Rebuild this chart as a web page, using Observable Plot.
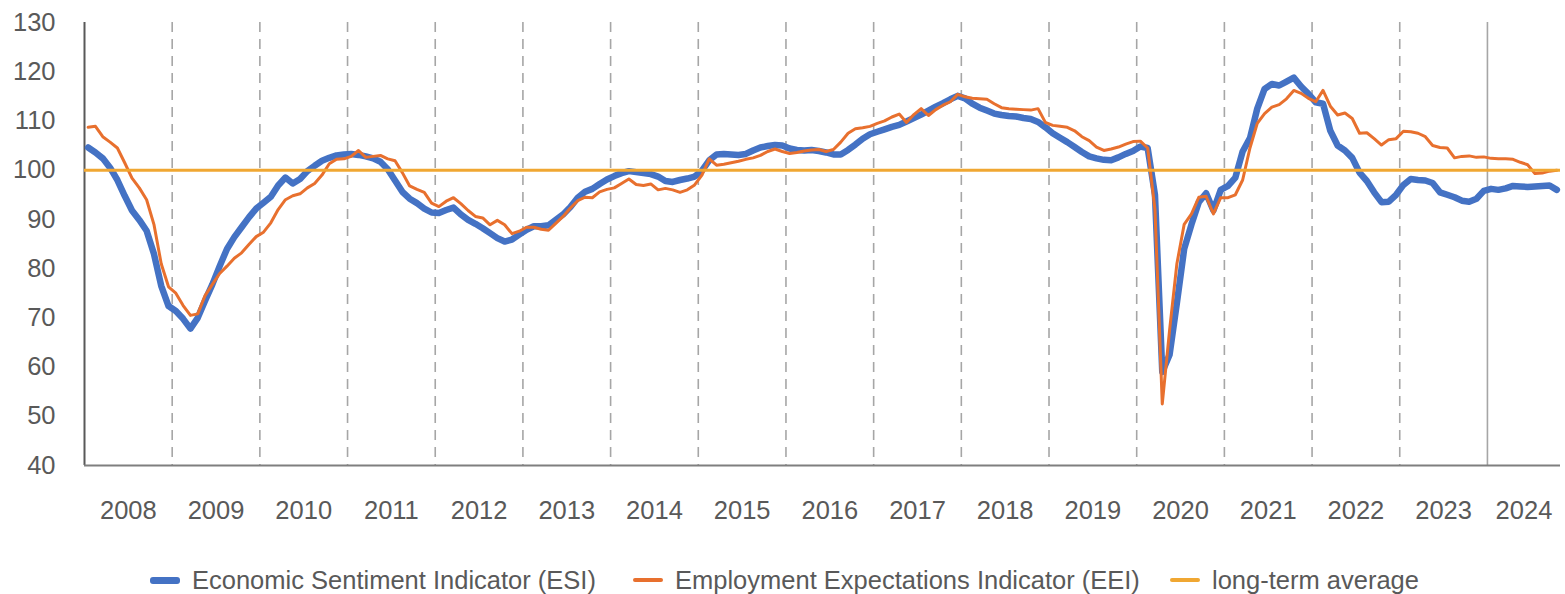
<!DOCTYPE html>
<html>
<head>
<meta charset="utf-8">
<script src="https://cdn.jsdelivr.net/npm/d3@7"></script>
<script src="https://cdn.jsdelivr.net/npm/@observablehq/plot@0.6"></script>
<style>
  body { margin: 0; background: #fff; font-family: "Liberation Sans", Arial, sans-serif; }
  #wrap { position: relative; width: 1565px; height: 594px; overflow: hidden; }
  .lg { position: absolute; top: 565px; height: 30px; display: flex; align-items: center; font-size: 25.5px; color: #595959; white-space: nowrap; }
  .sw { display: inline-block; width: 30px; margin-right: 12px; border-radius: 3px; }
</style>
</head>
<body>
<div id="wrap"></div>
<script>
// Year labels (categories) — monthly data Jan 2008 .. Oct 2024
const years = ["2008","2009","2010","2011","2012","2013","2014","2015","2016","2017","2018","2019","2020","2021","2022","2023","2024"];
const monthCount = 202;
const yTicks = [40, 50, 60, 70, 80, 90, 100, 110, 120, 130];
const longTermAverage = 100;

// Economic Sentiment Indicator (ESI), monthly
const esi = [
  104.6, 103.6, 102.4, 100.5, 98, 94.8, 91.8, 89.9, 87.7, 83, 76.5, 72.4,
  71.4, 69.8, 67.8, 70, 73.5, 76.8, 80.5, 84, 86.4, 88.4, 90.4, 92.2,
  93.4, 94.6, 96.9, 98.5, 97.3, 98.2, 99.8, 100.9, 101.9, 102.5, 103, 103.2,
  103.3, 103.1, 102.8, 102.4, 101.7, 100.2, 97.9, 95.6, 94.2, 93.3, 92.2, 91.4,
  91.3, 91.9, 92.4, 91, 89.9, 89.1, 88.2, 87.2, 86.2, 85.5, 85.9, 86.9,
  87.9, 88.6, 88.6, 88.8, 89.9, 91, 92.5, 94.4, 95.6, 96.2, 97.2, 98.1,
  98.8, 99.4, 99.8, 99.6, 99.4, 99.2, 98.7, 97.8, 97.6, 98, 98.3, 98.7,
  99.9, 102, 103.2, 103.3, 103.2, 103.1, 103.3, 104, 104.6, 104.9, 105.1, 105,
  104.4, 104.1, 104, 104.1, 103.9, 103.6, 103.2, 103.2, 104.1, 105.2, 106.4, 107.3,
  107.8, 108.3, 108.8, 109.2, 109.9, 110.6, 111.3, 112.1, 112.9, 113.6, 114.4, 115.1,
  114.6, 113.5, 112.7, 112.1, 111.5, 111.2, 111, 110.9, 110.6, 110.4, 109.8, 108.7,
  107.5, 106.6, 105.7, 104.7, 103.7, 102.8, 102.4, 102.1, 102, 102.6, 103.3, 103.9,
  104.8, 104.5, 95, 59, 62.5, 73, 84, 89, 93.5, 95.3, 91.8, 96,
  96.8, 98.5, 103.8, 106.5, 112.5, 116.5, 117.5, 117.2, 118, 118.8, 117, 115.5,
  113.8, 113.5, 108, 105, 104, 102.5, 99.5, 97.8, 95.5, 93.5, 93.6, 95,
  97, 98.2, 98, 97.9, 97.4, 95.5, 95, 94.5, 93.8, 93.6, 94.2, 95.8,
  96.2, 96, 96.3, 96.8, 96.7, 96.6, 96.7, 96.8, 96.9, 96
];

// Employment Expectations Indicator (EEI), monthly
const eei = [
  108.7, 108.9, 106.8, 105.7, 104.5, 101.5, 98.4, 96.4, 94, 89, 81, 76.3,
  75, 72.5, 70.5, 70.8, 74.5, 76.8, 79, 80.5, 82.1, 83.2, 84.9, 86.5,
  87.4, 89.3, 92, 94, 94.8, 95.2, 96.4, 97.3, 99, 101.3, 102.2, 102.3,
  102.8, 104, 102.6, 102.8, 103, 102.3, 101.9, 99.5, 96.8, 96.1, 95.5, 93.3,
  92.6, 93.7, 94.4, 93.2, 91.8, 90.6, 90.3, 88.9, 89.8, 88.9, 87.1, 87.6,
  88.4, 88.4, 88, 87.8, 89.2, 90.6, 92.3, 93.8, 94.5, 94.4, 95.6, 96.1,
  96.4, 97.3, 98.2, 97.1, 96.9, 97.2, 96, 96.3, 96, 95.5, 96, 97,
  99, 102.3, 101, 101.2, 101.5, 101.8, 102.2, 102.5, 103, 103.8, 104.3, 103.8,
  103.4, 103.6, 103.9, 104.1, 104.2, 103.8, 104.2, 105.7, 107.5, 108.4, 108.6, 108.9,
  109.5, 110, 110.8, 111.4, 109.7, 111.3, 112.5, 111.1, 112.3, 113.2, 113.9, 115.4,
  114.9, 114.6, 114.5, 114.4, 113.5, 112.7, 112.5, 112.4, 112.3, 112.2, 112.5, 109.7,
  109.1, 108.9, 108.7, 108, 106.8, 106, 104.7, 104, 104.3, 104.7, 105.3, 105.8,
  105.9, 104.5, 92, 52.5, 67.5, 81, 89, 91.1, 94.5, 94.7, 91.1, 94.4,
  94.4, 95, 98, 104.5, 109.5, 111.5, 112.8, 113.3, 114.5, 116.2, 115.6, 114.6,
  113.9, 116.2, 113, 111.2, 111.6, 110.5, 107.5, 107.6, 106.4, 105.1, 106.2, 106.4,
  107.9, 107.8, 107.5, 106.8, 105, 104.6, 104.5, 102.5, 102.8, 102.9, 102.6, 102.7,
  102.4, 102.3, 102.3, 102.2, 101.6, 101.1, 99.3, 99.4, 99.8, 100
];

const esiData = esi.map((v, i) => ({ x: i + 0.5, v }));
const eeiData = eei.map((v, i) => ({ x: i + 0.5, v }));
const yearStarts = years.map((y, k) => 12 * k);
const yearCenters = years.map((y, k) => (12 * k + Math.min(12 * k + 12, monthCount)) / 2);

const chart = Plot.plot({
  width: 1565,
  height: 540,
  marginLeft: 84,
  marginRight: 5,
  marginTop: 22,
  marginBottom: 75,
  style: { fontFamily: '"Liberation Sans", Arial, sans-serif', fontSize: "25.5px", color: "#595959", background: "#fff" },
  x: { domain: [0, monthCount] },
  y: { domain: [40, 130] },
  marks: [
    Plot.ruleX(yearStarts.slice(1, 16), { stroke: "#a6a6a6", strokeWidth: 1.6, strokeDasharray: "10,7" }),
    Plot.ruleX([yearStarts[16]], { stroke: "#a6a6a6", strokeWidth: 1.6 }),
    Plot.axisY({ ticks: yTicks, tickSize: 0, tickPadding: 29, label: null, fontSize: 25.5 }),
    Plot.axisX({ ticks: yearCenters, tickFormat: d => years[yearCenters.indexOf(d)], tickSize: 0, tickPadding: 35, label: null, fontSize: 25.5 }),
    Plot.ruleX([0], { stroke: "#595959", strokeWidth: 2 }),
    Plot.ruleY([40], { stroke: "#7f7f7f", strokeWidth: 2 }),
    Plot.line(esiData, { x: "x", y: "v", stroke: "#4472c4", strokeWidth: 6.5, strokeLinejoin: "round", strokeLinecap: "round" }),
    Plot.line(eeiData, { x: "x", y: "v", stroke: "#e8702e", strokeWidth: 3, strokeLinejoin: "round", strokeLinecap: "round" }),
    Plot.ruleY([longTermAverage], { stroke: "#f0a732", strokeWidth: 3 })
  ]
});

const wrap = document.getElementById("wrap");
wrap.appendChild(chart);

const legendItems = [
  { label: "Economic Sentiment Indicator (ESI)", color: "#4472c4", h: 7, left: 150 },
  { label: "Employment Expectations Indicator (EEI)", color: "#e8702e", h: 4, left: 633 },
  { label: "long-term average", color: "#f0a732", h: 4, left: 1170 }
];
for (const it of legendItems) {
  const d = document.createElement("div");
  d.className = "lg";
  d.style.left = it.left + "px";
  const s = document.createElement("span");
  s.className = "sw";
  s.style.height = it.h + "px";
  s.style.background = it.color;
  d.appendChild(s);
  const t = document.createElement("span");
  t.textContent = it.label;
  d.appendChild(t);
  wrap.appendChild(d);
}
</script>
</body>
</html>
